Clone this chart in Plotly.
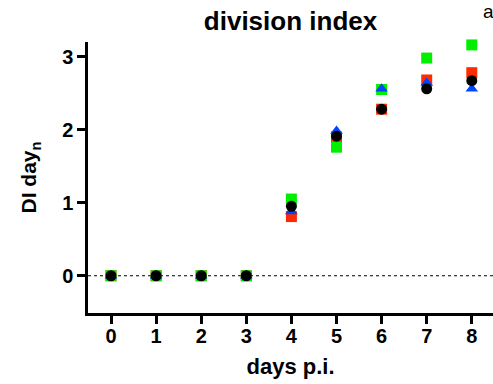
import plotly.graph_objects as go

days = [0, 1, 2, 3, 4, 5, 6, 7, 8]
red_vals = [0, 0, 0, 0, 0.81, 1.90, 2.28, 2.68, 2.78]
green_vals = [0, 0, 0, 0, 1.05, 1.76, 2.55, 2.98, 3.16]
blue_vals = [0, 0, 0, 0, 0.88, 1.98, 2.56, 2.64, 2.56]
black_vals = [0, 0, 0, 0, 0.95, 1.91, 2.28, 2.56, 2.67]
y_ticks = [0, 1, 2, 3]

FONT = "Liberation Sans, Arial, Helvetica, sans-serif"

fig = go.Figure()
fig.add_trace(go.Scatter(x=days, y=red_vals, mode="markers",
                         marker=dict(symbol="square", size=11, color="#ff2a00"),
                         showlegend=False, cliponaxis=False))
fig.add_trace(go.Scatter(x=days, y=green_vals, mode="markers",
                         marker=dict(symbol="square", size=11, color="#00ee00"),
                         showlegend=False, cliponaxis=False))
fig.add_trace(go.Scatter(x=days, y=blue_vals, mode="markers",
                         marker=dict(symbol="triangle-up", size=11, color="#0044ff"),
                         showlegend=False, cliponaxis=False))
fig.add_trace(go.Scatter(x=days, y=black_vals, mode="markers",
                         marker=dict(symbol="circle", size=11, color="black"),
                         showlegend=False, cliponaxis=False))

fig.add_shape(type="line", xref="paper", yref="y", x0=0, x1=1, y0=0, y1=0,
              line=dict(color="black", width=1, dash="dot"), layer="below")

fig.update_layout(
    width=493, height=384,
    margin=dict(l=88, r=0, t=42, b=71),
    plot_bgcolor="white", paper_bgcolor="white",
    title=dict(text="<b>division index</b>", x=0.5, xref="paper", xanchor="center",
               y=1 - 21 / 384, yref="container", yanchor="middle",
               font=dict(family=FONT, size=26, color="black")),
    font=dict(family=FONT, color="black"),
)

fig.update_xaxes(range=[-0.51, 8.47], tickvals=days, ticktext=[str(d) for d in days],
                 automargin=False,
                 showgrid=False, zeroline=False, showline=True, linecolor="black", linewidth=2.5,
                 ticks="outside", ticklen=8, tickwidth=2.5, tickcolor="black",
                 ticklabelstandoff=-5,
                 tickfont=dict(family=FONT, size=20, weight="bold"),
                 title=dict(text="<b>days p.i.</b>", font=dict(family=FONT, size=22), standoff=13))
fig.update_yaxes(range=[-0.51, 3.2], tickvals=y_ticks, ticktext=[str(v) for v in y_ticks],
                 automargin=False,
                 showgrid=False, zeroline=False, showline=True, linecolor="black", linewidth=2.5,
                 ticks="outside", ticklen=8, tickwidth=2.5, tickcolor="black",
                 tickfont=dict(family=FONT, size=20, weight="bold"),
                 title=dict(text="<b>DI day<sub>n</sub></b>", font=dict(family=FONT, size=21), standoff=20))

fig.add_annotation(text="a", xref="paper", yref="paper", x=(481 - 88) / 405, y=1 + 30 / 271,
                   xanchor="left", yanchor="middle", showarrow=False,
                   font=dict(family=FONT, size=19, color="black"))

fig.write_html("out.html", config={"displayModeBar": False},
               post_script="document.body.style.margin='0';document.body.style.overflow='hidden';")
